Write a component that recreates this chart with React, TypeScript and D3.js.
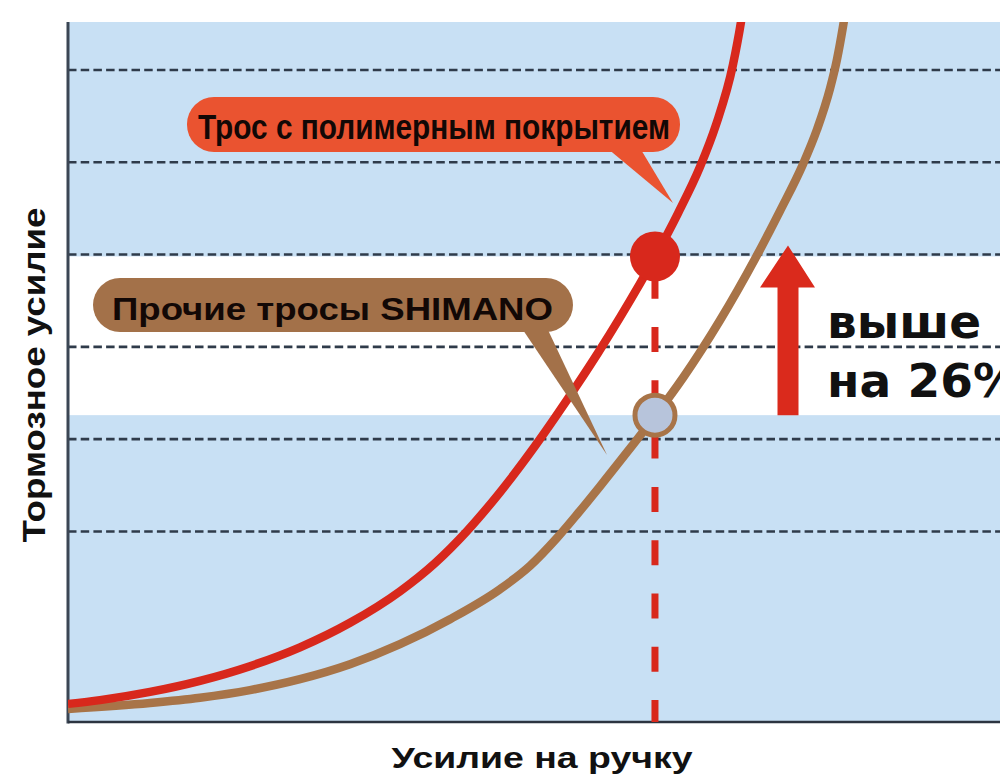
import React from "react";
import * as d3 from "d3";

// Handle force (x) vs braking force (y), arbitrary units
const polymerX = [0, 0.343, 0.88, 1.416, 1.953, 2.489, 3.026, 3.562, 3.938, 4.281, 4.635, 5.011, 5.236, 5.461, 5.687, 5.923, 6.298, 6.545, 6.781, 6.953, 7.135, 7.232, 7.296];
const polymerY = [0.131, 0.172, 0.261, 0.381, 0.54, 0.744, 1.01, 1.351, 1.657, 2.004, 2.424, 2.925, 3.249, 3.585, 3.935, 4.319, 4.973, 5.447, 5.949, 6.406, 7.057, 7.594, 8.083];
const otherX = [0, 0.88, 1.416, 1.953, 2.489, 3.026, 3.562, 4.099, 4.635, 4.957, 5.247, 5.472, 5.708, 6.009, 6.298, 6.599, 6.996, 7.371, 7.639, 7.886, 8.036, 8.176, 8.251, 8.315, 8.38];
const otherY = [0.077, 0.141, 0.198, 0.281, 0.399, 0.561, 0.778, 1.049, 1.374, 1.627, 1.93, 2.197, 2.489, 2.872, 3.248, 3.665, 4.288, 4.952, 5.471, 5.979, 6.353, 6.798, 7.115, 7.468, 7.89];
const gridTicks = [2, 3, 4, 5, 6, 7];
const markerX = 6.298;
const polymerMarkerY = 4.98;
const otherMarkerY = 3.26;

const polymerLabel = "Трос с полимерным покрытием";
const otherLabel = "Прочие тросы SHIMANO";
const xTitle = "Усилие на ручку";
const yTitle = "Тормозное усилие";
const gainLine1 = "выше";
const gainLine2 = "на 26%";

const W = 1000;
const H = 782;
const L = 68, R = 1000, T = 22, B = 722;

export default function App() {
  const x = d3.scaleLinear().domain([0, 10]).range([L, L + 932]);
  const y = d3.scaleLinear().domain([-0.065, 7.52]).range([B, T]);

  const line = d3
    .line<[number, number]>()
    .x((d) => x(d[0]))
    .y((d) => y(d[1]))
    .curve(d3.curveMonotoneX);

  const polymer = polymerX.map((v, i) => [v, polymerY[i]] as [number, number]);
  const other = otherX.map((v, i) => [v, otherY[i]] as [number, number]);

  const redY = y(polymerMarkerY);
  const brownY = y(otherMarkerY);
  const mx = x(markerX);

  const red = "#d8281c";
  const brown = "#a87448";
  const blue = "#c8e0f4";
  const grid = "#2f3b4a";

  // arrow
  const ax = 788;
  const arrowTip = redY - 11;
  const arrowBase = brownY;
  const arrowPts = [
    [ax - 10.5, arrowBase],
    [ax - 10.5, arrowTip + 42],
    [ax - 28, arrowTip + 42],
    [ax, arrowTip],
    [ax + 27, arrowTip + 42],
    [ax + 10.5, arrowTip + 42],
    [ax + 10.5, arrowBase],
  ]
    .map((p) => p.join(","))
    .join(" ");

  return (
    <svg
      width={W}
      height={H}
      style={{ position: "absolute", left: 0, top: 0, background: "#fff" }}
      fontFamily="'Liberation Sans', Arial, sans-serif"
    >
      <defs>
        <clipPath id="plot">
          <rect x={L} y={T} width={R - L} height={B - T} />
        </clipPath>
      </defs>
      {/* background bands */}
      <rect x={L} y={T} width={R - L} height={B - T} fill={blue} />
      <rect x={L} y={redY} width={R - L} height={brownY - redY} fill="#ffffff" />

      {/* grid */}
      {gridTicks.map((t) => (
        <line
          key={t}
          x1={L}
          x2={R}
          y1={y(t)}
          y2={y(t)}
          stroke={grid}
          strokeWidth={2.6}
          strokeDasharray="8.5,4.2"
        />
      ))}

      {/* axes */}
      <line x1={L} x2={L} y1={T} y2={B + 1.5} stroke="#3b4654" strokeWidth={3} />
      <line x1={L} x2={R} y1={B} y2={B} stroke="#2c3440" strokeWidth={2.6} />

      {/* vertical marker line */}
      <line
        x1={mx}
        x2={mx}
        y1={redY}
        y2={B}
        stroke={red}
        strokeWidth={7}
        strokeDasharray="25,28.3"
        strokeDashoffset={36}
      />

      {/* curves */}
      <g clipPath="url(#plot)">
        <path d={line(other) ?? ""} fill="none" stroke={brown} strokeWidth={8.5} />
        <path d={line(polymer) ?? ""} fill="none" stroke={red} strokeWidth={8.5} />
      </g>

      {/* markers */}
      <circle cx={mx} cy={redY} r={25} fill={red} />
      <circle cx={mx} cy={brownY} r={20} fill="#b7c4db" stroke={brown} strokeWidth={5} />

      {/* arrow */}
      <polygon points={arrowPts} fill="#da2a1c" />

      {/* gain text */}
      <text
        x={827}
        y={338}
        fontFamily="'DejaVu Sans', sans-serif"
        fontWeight="bold"
        fontSize={47}
        fill="#111"
      >
        {gainLine1}
      </text>
      <text
        x={827}
        y={397}
        fontFamily="'DejaVu Sans', sans-serif"
        fontWeight="bold"
        fontSize={47}
        fill="#111"
      >
        {gainLine2}
      </text>

      {/* polymer callout */}
      <polygon points="607,148 640,148 673,203" fill="#ea5330" />
      <rect x={187} y={97} width={493} height={55} rx={27} ry={27} fill="#ea5330" />
      <text
        x={198}
        y={139}
        fontWeight="bold"
        fontSize={35}
        fill="#120806"
        textLength={472}
        lengthAdjust="spacingAndGlyphs"
      >
        {polymerLabel}
      </text>

      {/* other callout */}
      <polygon points="523,330 548,330 607,455" fill="#a37149" />
      <rect x={93} y={278} width={480} height={54} rx={27} ry={27} fill="#a37149" />
      <text
        x={112}
        y={320}
        fontWeight="bold"
        fontSize={32}
        fill="#120806"
        textLength={441}
        lengthAdjust="spacingAndGlyphs"
      >
        {otherLabel}
      </text>

      {/* axis titles */}
      <text
        x={542}
        y={768}
        textAnchor="middle"
        fontWeight="bold"
        fontSize={30}
        fill="#111"
        textLength={301}
        lengthAdjust="spacingAndGlyphs"
      >
        {xTitle}
      </text>
      <text
        transform="translate(45,375) rotate(-90)"
        textAnchor="middle"
        fontWeight="bold"
        fontSize={32}
        fill="#111"
        textLength={335}
        lengthAdjust="spacingAndGlyphs"
      >
        {yTitle}
      </text>
    </svg>
  );
}
